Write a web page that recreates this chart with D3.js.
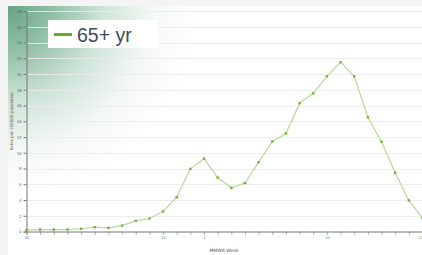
<!DOCTYPE html>
<html>
<head>
<meta charset="utf-8">
<script src="https://cdn.jsdelivr.net/npm/d3@7"></script>
<style>
  body { margin: 0; background: #f4f4f4; }
  svg { display: block; font-family: "DejaVu Sans", sans-serif; }
</style>
</head>
<body>
<svg id="chart" width="422" height="255"></svg>
<script>
const weeks = ['40', '41', '42', '43', '44', '45', '46', '47', '48', '49', '50', '51', '52',
  '1', '2', '3', '4', '5', '6', '7', '8', '9', '10', '11', '12', '13', '14', '15', '16', '17']
const rates = [0.2, 0.25, 0.25, 0.25, 0.35, 0.55, 0.45, 0.75, 1.35, 1.65, 2.55, 4.35, 7.95,
  9.25, 6.85, 5.55, 6.15, 8.8, 11.45, 12.45, 16.3, 17.55, 19.7, 21.5, 19.7, 14.5, 11.4, 7.45, 3.95, 1.7]
const yTicks = d3.range(0, 29, 2)
const labeledWeeks = ['40', '50', '1', '10', '17']
const seriesName = '65+ yr'

const svg = d3.select('#chart')
const margin = { left: 26.5, top: 11, right: 0, bottom: 23.5 }
const width = 422
const height = 255

// panel + green corner decoration
const defs = svg.append('defs')
const grad = defs.append('radialGradient')
  .attr('id', 'corner')
  .attr('gradientUnits', 'userSpaceOnUse')
  .attr('cx', 8).attr('cy', 6).attr('r', 190)
grad.append('stop').attr('offset', '0%').attr('stop-color', '#66a385')
grad.append('stop').attr('offset', '25%').attr('stop-color', '#94c1a9')
grad.append('stop').attr('offset', '50%').attr('stop-color', '#cfe4d8')
grad.append('stop').attr('offset', '75%').attr('stop-color', '#f3f8f5')
grad.append('stop').attr('offset', '100%').attr('stop-color', '#ffffff')

svg.append('rect').attr('x', 8).attr('y', 6).attr('width', width - 8).attr('height', height - 6)
  .attr('fill', 'url(#corner)')

const x = d3.scalePoint().domain(weeks).range([margin.left, width + 0.5])
const y = d3.scaleLinear().domain([0, 28]).range([height - margin.bottom, margin.top])

// gridlines
svg.append('g').selectAll('line').data(yTicks.slice(1)).join('line')
  .attr('x1', margin.left).attr('x2', width)
  .attr('y1', (d) => Math.round(y(d)) + 0.5).attr('y2', (d) => Math.round(y(d)) + 0.5)
  .attr('stroke', '#ffffff').attr('stroke-opacity', 0.6)
svg.append('g').selectAll('line').data(yTicks.slice(1)).join('line')
  .attr('x1', margin.left).attr('x2', width)
  .attr('y1', (d) => Math.round(y(d)) + 0.5).attr('y2', (d) => Math.round(y(d)) + 0.5)
  .attr('stroke', '#e6e6e6').attr('stroke-opacity', 0.7)

const yAxis = svg.append('g')
  .attr('transform', `translate(${margin.left},0)`)
  .call(d3.axisLeft(y).tickValues(yTicks).tickSize(3).tickPadding(2))
yAxis.select('.domain').attr('stroke', '#777')
yAxis.selectAll('.tick line').attr('stroke', '#777')
yAxis.selectAll('text').attr('font-size', 4).attr('fill', '#555')

const xAxis = svg.append('g')
  .attr('transform', `translate(0,${y(0)})`)
  .call(d3.axisBottom(x).tickSize(3).tickPadding(2)
    .tickFormat((d) => labeledWeeks.includes(d) ? d : ''))
xAxis.select('.domain').attr('stroke', '#777')
xAxis.selectAll('.tick line').attr('stroke', '#999')
xAxis.selectAll('text').attr('font-size', 4).attr('fill', '#6a7f9a')
xAxis.selectAll('.tick').filter((d) => d === weeks[weeks.length - 1])
  .select('text').attr('text-anchor', 'end')

svg.append('text')
  .attr('transform', `translate(13,${(margin.top + y(0)) / 2}) rotate(-90)`)
  .attr('text-anchor', 'middle')
  .attr('font-size', 4)
  .attr('fill', '#555')
  .text('Rates per 100000 population')

svg.append('text')
  .attr('x', 224).attr('y', 252)
  .attr('text-anchor', 'middle')
  .attr('font-size', 4.5)
  .attr('fill', '#555')
  .text('MMWR Week')

// series
const line = d3.line()
  .x((d, i) => x(weeks[i]))
  .y((d) => y(d))
svg.append('path')
  .datum(rates)
  .attr('d', line)
  .attr('fill', 'none')
  .attr('stroke', '#b5d99a')
  .attr('stroke-width', 1.2)

svg.append('g').selectAll('rect').data(rates).join('rect')
  .attr('x', (d, i) => x(weeks[i]) - 1.2)
  .attr('y', (d) => y(d) - 1.2)
  .attr('width', 2.4).attr('height', 2.4)
  .attr('fill', '#74b33a')

// legend
svg.append('rect').attr('x', 48).attr('y', 20).attr('width', 110).attr('height', 28)
  .attr('fill', '#ffffff')
svg.append('line').attr('x1', 54).attr('x2', 72).attr('y1', 34.5).attr('y2', 34.5)
  .attr('stroke', '#6aaa2a').attr('stroke-width', 3)
svg.append('text').attr('x', 77).attr('y', 42)
  .attr('font-family', 'Liberation Sans, Arial, sans-serif')
  .attr('font-size', 19.5)
  .attr('fill', '#3d4a5e')
  .text(seriesName)
</script>
</body>
</html>
